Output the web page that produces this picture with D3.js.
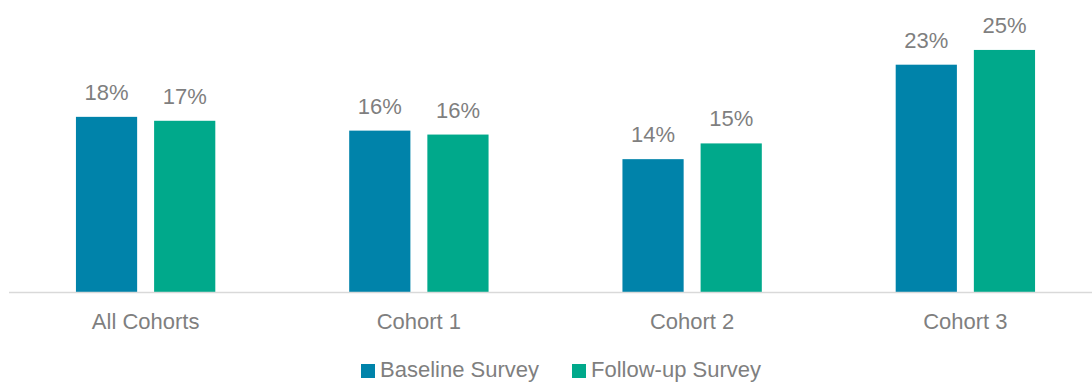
<!DOCTYPE html>
<html>
<head>
<meta charset="utf-8">
<script src="https://cdn.jsdelivr.net/npm/d3@7"></script>
<style>
  html, body { margin: 0; padding: 0; background: #fff; }
  svg { display: block; }
  text { font-family: "Liberation Sans", Arial, sans-serif; }
</style>
</head>
<body>
<svg id="chart" width="1092" height="383"></svg>
<script>
// Share of respondents, by cohort and survey wave (percent)
const categories = ["All Cohorts", "Cohort 1", "Cohort 2", "Cohort 3"];
const seriesNames = ["Baseline Survey", "Follow-up Survey"];
const baseline = [17.8, 16.4, 13.5, 23.1];
const followUp = [17.4, 16.0, 15.1, 24.6];
const colors = ["#0083AA", "#00A98B"];

const svg = d3.select("#chart");
const W = 1092, baseY = 292;

const x0 = d3.scaleBand()
  .domain(categories)
  .range([9, 1102])
  .paddingInner(0.49)
  .paddingOuter(0.245);

const x1 = d3.scaleBand()
  .domain(seriesNames)
  .range([0, x0.bandwidth()])
  .paddingInner(0.217)
  .paddingOuter(0);

const y = d3.scaleLinear()
  .domain([0, 30])
  .range([baseY, baseY - 30 * 9.84]);

const color = d3.scaleOrdinal().domain(seriesNames).range(colors);
const fmt = v => d3.format(".0f")(v) + "%";

const rows = categories.map((c, i) => ({
  category: c,
  values: [
    { series: seriesNames[0], value: baseline[i] },
    { series: seriesNames[1], value: followUp[i] }
  ]
}));

const groups = svg.append("g")
  .selectAll("g")
  .data(rows)
  .join("g")
  .attr("transform", d => `translate(${x0(d.category)},0)`);

groups.selectAll("rect")
  .data(d => d.values)
  .join("rect")
  .attr("x", d => x1(d.series))
  .attr("y", d => y(d.value))
  .attr("width", x1.bandwidth())
  .attr("height", d => y(0) - y(d.value))
  .attr("fill", d => color(d.series));

groups.selectAll("text.val")
  .data(d => d.values)
  .join("text")
  .attr("class", "val")
  .attr("x", d => x1(d.series) + x1.bandwidth() / 2)
  .attr("y", d => y(d.value) - 17)
  .attr("text-anchor", "middle")
  .attr("font-size", 22)
  .attr("fill", "#7f7f7f")
  .text(d => fmt(d.value));

// Category axis: baseline rule and labels, no ticks
const xAxis = d3.axisBottom(x0).tickSize(0).tickPadding(21);
const ax = svg.append("g")
  .attr("transform", `translate(0,${baseY})`)
  .call(xAxis);
ax.select(".domain").remove();
ax.append("line")
  .attr("x1", 9).attr("x2", W)
  .attr("y1", 0.5).attr("y2", 0.5)
  .attr("stroke", "#d9d9d9")
  .attr("stroke-width", 1.5);
ax.selectAll(".tick text")
  .attr("font-size", 22)
  .attr("font-family", "Liberation Sans, Arial, sans-serif")
  .attr("fill", "#7f7f7f");

// Legend
const legendX = [361, 572];
const legend = svg.append("g")
  .selectAll("g")
  .data(seriesNames)
  .join("g")
  .attr("transform", (d, i) => `translate(${legendX[i]},0)`);
legend.append("rect")
  .attr("x", 0).attr("y", 364)
  .attr("width", 14).attr("height", 14)
  .attr("fill", d => color(d));
legend.append("text")
  .attr("x", 19).attr("y", 377)
  .attr("font-size", 22)
  .attr("fill", "#7f7f7f")
  .text(d => d);
</script>
</body>
</html>
